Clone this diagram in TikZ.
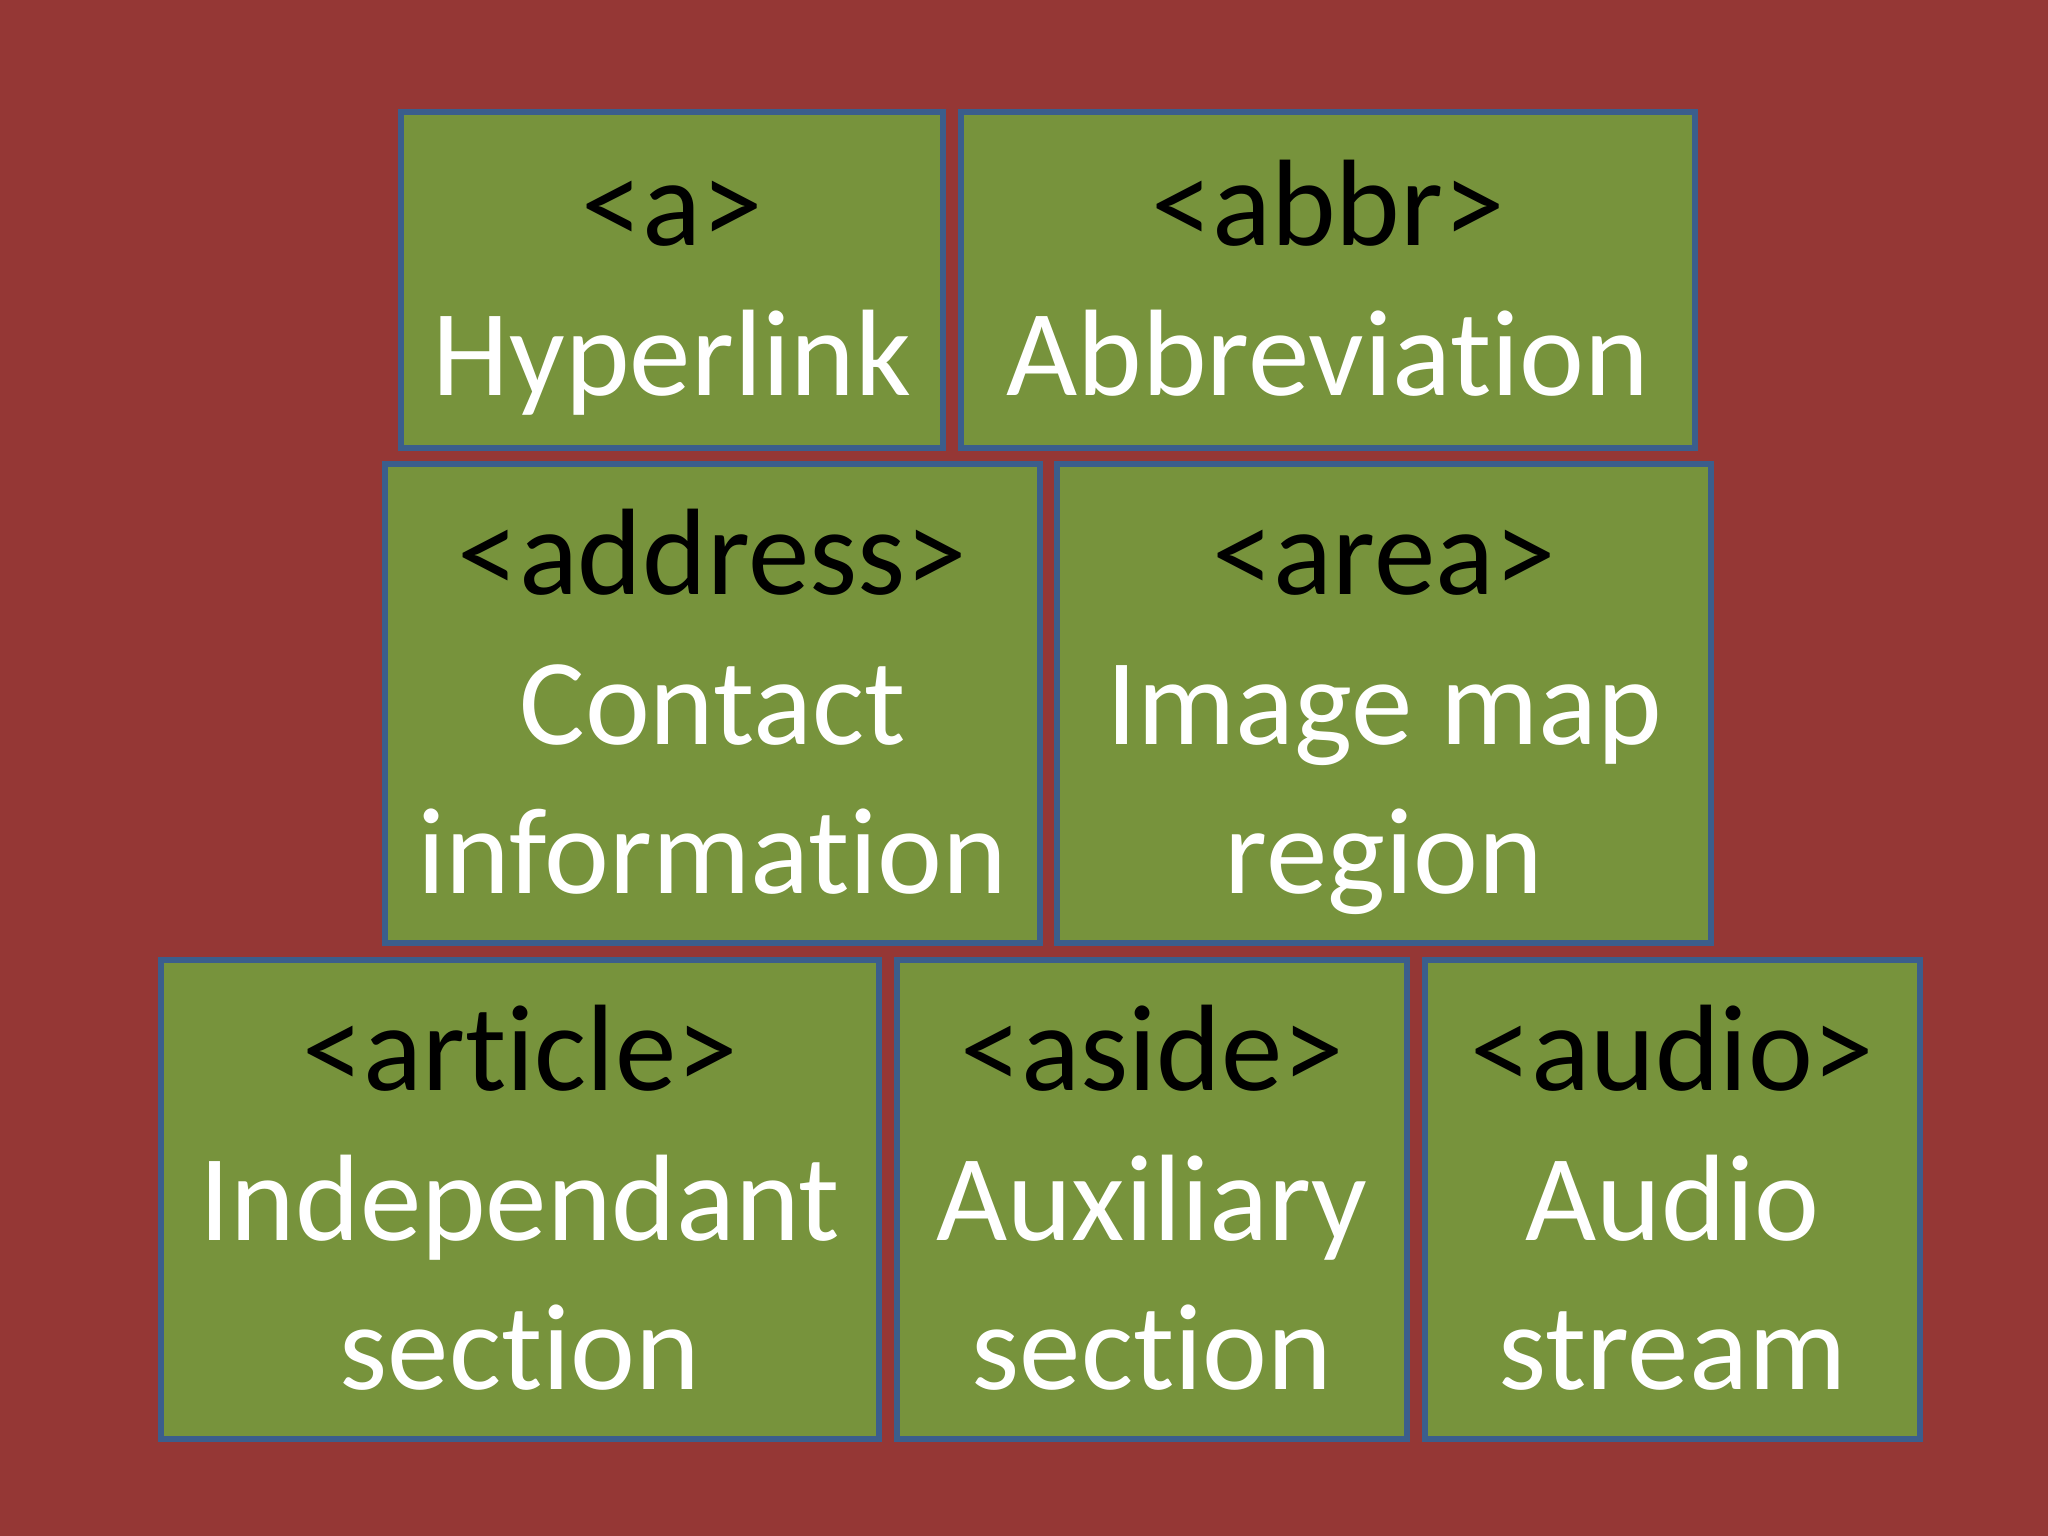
\documentclass[tikz,border=0pt]{standalone}
\usepackage{fontspec}
\setmainfont{Carlito}[Ligatures=NoCommon]
\definecolor{slidered}{HTML}{953735}
\definecolor{tilegreen}{HTML}{77933C}
\definecolor{tileblue}{HTML}{3B5E8C}
\newcommand{\tilestrut}{\vrule height 32.7pt depth 9.6pt width 0pt}
\newcommand{\tagname}[1]{\tilestrut{\color{black}<#1>}}
\tikzset{tile/.style={draw=tileblue, line width=1.6pt, fill=tilegreen, text=white,
    align=center, inner sep=0pt, font=\fontsize{35}{42.6}\selectfont}}
\begin{document}
\begin{tikzpicture}[x=1cm,y=-1cm]
                        \fill[slidered] (0,0) rectangle (20.48,15.36);

                        \coordinate (Pa)       at (6.72,2.80);
                        \coordinate (Pabbr)    at (13.28,2.80);
                        \coordinate (Paddress) at (7.125,7.035);
                        \coordinate (Parea)    at (13.84,7.035);
                        \coordinate (Particle) at (5.20,11.995);
                        \coordinate (Paside)   at (11.52,11.995);
                        \coordinate (Paudio)   at (16.725,11.995);

                        \node[tile, minimum width=5.42cm, minimum height=3.36cm] (a) at (Pa)
                            {\tagname{a}\\\tilestrut Hyperlink};
                        \node[tile, minimum width=7.34cm, minimum height=3.36cm] (abbr) at (Pabbr)
                            {\tagname{abbr}\\\tilestrut Abbreviation};
                        \node[tile, minimum width=6.55cm, minimum height=4.79cm] (address) at (Paddress)
                            {\tagname{address}\\\tilestrut Contact\\\tilestrut information};
                        \node[tile, minimum width=6.54cm, minimum height=4.79cm] (area) at (Parea)
                            {\tagname{area}\\\tilestrut Image map\\\tilestrut region};
                        \node[tile, minimum width=7.18cm, minimum height=4.79cm] (article) at (Particle)
                            {\tagname{article}\\\tilestrut Independant\\\tilestrut section};
                        \node[tile, minimum width=5.10cm, minimum height=4.79cm] (aside) at (Paside)
                            {\tagname{aside}\\\tilestrut Auxiliary\\\tilestrut section};
                        \node[tile, minimum width=4.95cm, minimum height=4.79cm] (audio) at (Paudio)
                            {\tagname{audio}\\\tilestrut Audio\\\tilestrut stream};
                      \end{tikzpicture}
\end{document}
